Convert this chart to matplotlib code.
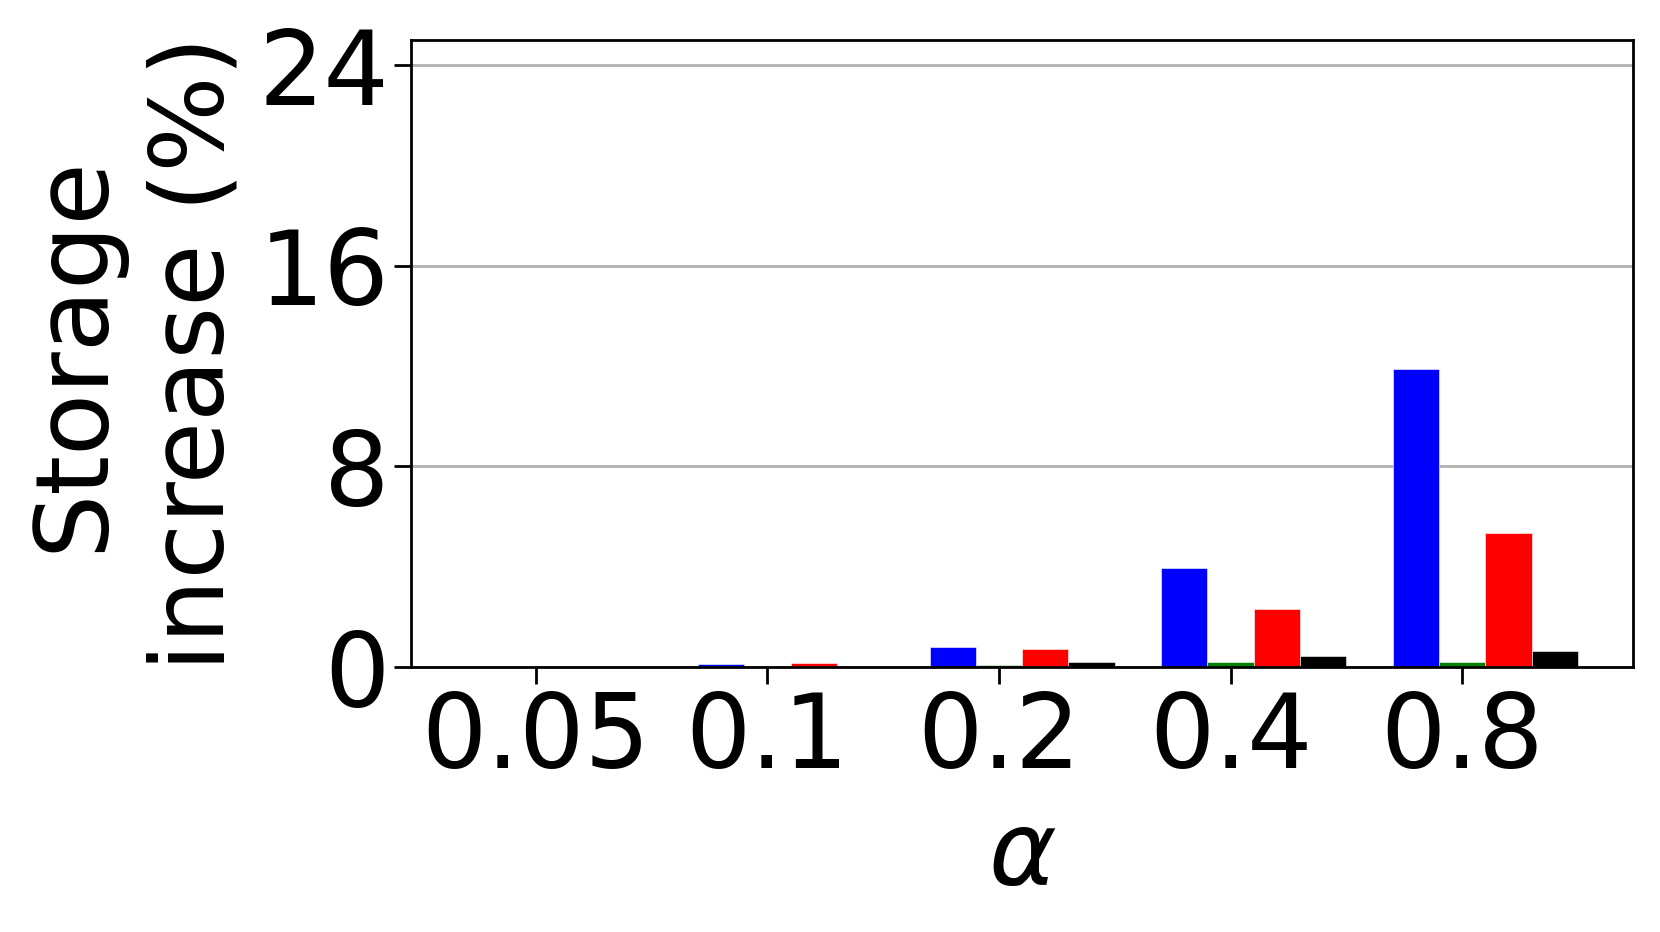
import matplotlib
matplotlib.use("Agg")
import matplotlib.pyplot as plt
import numpy as np

alphas = ["0.05", "0.1", "0.2", "0.4", "0.8"]
series_blue = [0.0, 0.12, 0.80, 3.96, 11.87]
series_green = [0.0, 0.0, 0.08, 0.20, 0.20]
series_red = [0.0, 0.15, 0.70, 2.31, 5.33]
series_black = [0.0, 0.0, 0.22, 0.45, 0.63]

series = [series_blue, series_green, series_red, series_black]
colors = ["blue", "green", "red", "black"]
offsets = [-0.2, 0.0, 0.2, 0.4]

fig = plt.figure(figsize=(16.6, 9.32), dpi=100)
ax = fig.add_axes([0.2475, 0.2843, 0.7365, 0.6727])

x = np.arange(len(alphas))
width = 0.2
for vals, c, off in zip(series, colors, offsets):
    ax.bar(x + off, vals, width, color=c, edgecolor="white", linewidth=0.4, zorder=2)

ax.set_ylim(0, 25)
ax.set_yticks([0, 8, 16, 24])
ax.set_xticks(x)
ax.set_xticklabels(alphas)
ax.yaxis.grid(True, color="#b0b0b0", linewidth=2, zorder=0)
ax.set_axisbelow(True)
ax.tick_params(axis="both", labelsize=74, width=2, length=12)
for s in ax.spines.values():
    s.set_linewidth(2)
    s.set_zorder(3)

ax.set_ylabel("Storage\nincrease (%)", fontsize=73, linespacing=1.3, labelpad=10)
ax.set_xlabel(r"$\alpha$", fontsize=74, labelpad=12)

fig.savefig("out.png", dpi=100)
